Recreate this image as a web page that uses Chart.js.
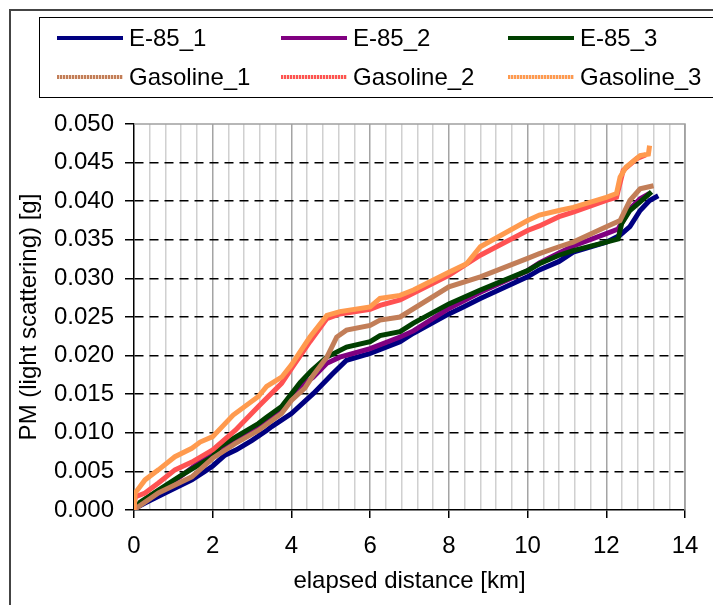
<!DOCTYPE html>
<html>
<head>
<meta charset="utf-8">
<title>PM vs elapsed distance</title>
<script src="https://cdn.jsdelivr.net/npm/chart.js@4.4.0/dist/chart.umd.min.js"></script>
<style>
  html, body { margin: 0; padding: 0; background: #fff; }
  #wrap { position: relative; width: 713px; height: 605px; overflow: hidden;
          font-family: 'Liberation Sans', Arial, sans-serif; }
  #frame { position: absolute; left: 9px; top: 9px; width: 800px; height: 700px;
           border: 2px solid #444; }
  #legend { position: absolute; left: 39px; top: 17px; width: 760px; height: 79px;
            border: 1px solid #000; z-index: 2; }
  .lg-text { position: absolute; font-size: 24px; line-height: 24px; color: #000; white-space: nowrap; }
  .lg-line { position: absolute; width: 66px; height: 4px; }
  #chart { position: absolute; left: 0; top: 0; z-index: 1; }
</style>
</head>
<body>
<div id="wrap">
  <div id="frame"></div>
  <canvas id="chart" width="713" height="605"></canvas>
  <div id="legend"></div>
</div>
<script>
// values: distance [km] and PM [g]
const distE1 = [0, 0.1, 0.28, 0.79, 1.47, 1.8, 2.0, 2.31, 2.6, 2.99, 3.37, 3.5, 4.0, 4.56, 5.06, 5.4, 6.0, 6.76, 7.1, 8.0, 8.37, 8.8, 10.0, 10.3, 10.8, 11.16, 12.0, 12.35, 12.6, 12.86, 13.1, 13.32];
const pmE1   = [0, 0.0004, 0.0009, 0.0022, 0.0039, 0.005, 0.0057, 0.0071, 0.0078, 0.009, 0.0103, 0.0108, 0.0125, 0.0151, 0.0177, 0.0194, 0.0203, 0.0218, 0.0229, 0.0254, 0.0263, 0.0274, 0.0302, 0.0311, 0.0322, 0.0334, 0.0347, 0.0356, 0.0367, 0.0388, 0.0401, 0.0407];

const distE2 = [0, 0.15, 0.6, 1.2, 2.0, 2.6, 3.16, 3.75, 4.22, 4.55, 4.9, 5.23, 6.0, 6.76, 7.1, 8.0, 8.8, 10.0, 10.3, 10.8, 11.16, 12.0, 12.3, 12.6, 12.86, 13.1];
const pmE2   = [0, 0.0009, 0.0024, 0.0044, 0.0075, 0.0092, 0.0108, 0.013, 0.016, 0.0172, 0.019, 0.0198, 0.0209, 0.0224, 0.0232, 0.0261, 0.0282, 0.031, 0.032, 0.0333, 0.0342, 0.0358, 0.0364, 0.039, 0.0403, 0.041];

const distE3 = [0, 0.15, 0.6, 1.2, 2.0, 2.18, 2.6, 3.16, 3.37, 3.75, 4.22, 4.5, 4.9, 5.4, 6.0, 6.25, 6.76, 7.1, 8.0, 8.8, 10.0, 10.3, 10.8, 11.16, 12.0, 12.3, 12.39, 12.6, 12.86, 13.15];
const pmE3   = [0, 0.001, 0.0025, 0.0045, 0.0069, 0.0082, 0.0095, 0.0112, 0.012, 0.0134, 0.0165, 0.018, 0.0198, 0.0211, 0.0218, 0.0226, 0.0231, 0.0242, 0.0267, 0.0285, 0.031, 0.0319, 0.033, 0.0336, 0.0347, 0.0351, 0.0371, 0.0388, 0.0399, 0.0412];

const distG1 = [0, 0.1, 0.62, 1.47, 2.0, 2.57, 3.16, 3.75, 4.0, 4.34, 4.56, 4.9, 5.15, 5.4, 6.0, 6.25, 6.76, 8.0, 8.8, 10.0, 10.3, 10.8, 11.16, 12.0, 12.35, 12.6, 12.86, 13.2];
const pmG1   = [0, 0.0004, 0.0022, 0.0043, 0.0067, 0.0086, 0.0103, 0.0125, 0.0142, 0.0158, 0.0175, 0.0198, 0.0224, 0.0233, 0.0239, 0.0246, 0.025, 0.0289, 0.0302, 0.0326, 0.0332, 0.0341, 0.0347, 0.0367, 0.0375, 0.0401, 0.0416, 0.042];

const distG2 = [0, 0.03, 0.28, 0.62, 1.04, 1.47, 2.0, 2.57, 3.16, 3.75, 4.0, 4.47, 4.9, 5.23, 6.0, 6.25, 6.76, 8.0, 8.8, 10.0, 10.3, 10.8, 11.16, 12.0, 12.26, 12.43, 12.77, 13.0];
const pmG2   = [0, 0.0017, 0.0022, 0.0035, 0.0052, 0.0062, 0.0078, 0.0103, 0.0134, 0.0164, 0.0183, 0.0218, 0.0248, 0.0254, 0.026, 0.0265, 0.0272, 0.0304, 0.033, 0.0362, 0.0368, 0.038, 0.0386, 0.0401, 0.0405, 0.044, 0.0455, 0.046];

const distG3 = [0, 0.03, 0.28, 0.62, 1.04, 1.47, 1.68, 2.0, 2.52, 3.16, 3.37, 3.75, 4.0, 4.47, 4.9, 5.23, 6.0, 6.25, 6.76, 7.1, 8.0, 8.45, 8.8, 10.0, 10.3, 10.8, 11.16, 12.0, 12.26, 12.35, 12.5, 12.86, 13.07, 13.1];
const pmG3   = [0, 0.0022, 0.0039, 0.0052, 0.0069, 0.008, 0.0088, 0.0095, 0.0123, 0.0147, 0.016, 0.0172, 0.0188, 0.0224, 0.0252, 0.0257, 0.0263, 0.0274, 0.0278, 0.0285, 0.0308, 0.0319, 0.0341, 0.0375, 0.0382, 0.0388, 0.0392, 0.0405, 0.041, 0.0431, 0.0444, 0.0459, 0.0461, 0.0472];

const seriesNames = ['E-85_1', 'E-85_2', 'E-85_3', 'Gasoline_1', 'Gasoline_2', 'Gasoline_3'];
const xTickLabels = [0, 2, 4, 6, 8, 10, 12, 14];

const dists = [distE1, distE2, distE3, distG1, distG2, distG3];
const pms = [pmE1, pmE2, pmE3, pmG1, pmG2, pmG3];
const colors = ['#000080', '#800080', '#003f00', '#c27e58', '#ff5252', '#ff9a4e'];

const FONT = "'Liberation Sans', Arial, sans-serif";

// legend (html so the bordered 3-column box matches)
const legendPos = [[57, 38], [281, 38], [508, 38], [57, 77], [281, 77], [508, 77]];
const legend = document.getElementById('legend');
seriesNames.forEach((name, i) => {
  const [lx, ly] = legendPos[i];
  const line = document.createElement('div');
  line.className = 'lg-line';
  line.style.left = (lx - 40) + 'px';
  line.style.top = (ly - 18 - 2) + 'px';
  if (i < 3) {
    line.style.background = colors[i];
  } else {
    line.style.background = 'repeating-linear-gradient(90deg,' + colors[i] + ' 0 2px, #f2d8c8 2px 3px)';
  }
  legend.appendChild(line);
  const t = document.createElement('div');
  t.className = 'lg-text';
  t.textContent = name;
  t.style.left = (lx - 40 + 72) + 'px';
  t.style.top = (ly - 18 - 12) + 'px';
  legend.appendChild(t);
});

const isMajor = v => xTickLabels.some(t => Math.abs(v - t) < 1e-6);

// plot frame (gray top and right edge)
const framePlugin = {
  id: 'plotFrame',
  beforeDatasetsDraw(chart) {
    const a = chart.chartArea, ctx = chart.ctx;
    ctx.save();
    ctx.strokeStyle = '#a0a0a0';
    ctx.lineWidth = 1.5;
    ctx.beginPath();
    ctx.moveTo(a.left, a.top);
    ctx.lineTo(a.right, a.top);
    ctx.lineTo(a.right, a.bottom);
    ctx.stroke();
    ctx.restore();
  }
};

new Chart(document.getElementById('chart'), {
  type: 'line',
  data: {
    datasets: seriesNames.map((name, i) => ({
      label: name,
      data: dists[i].map((d, k) => ({ x: d, y: pms[i][k] })),
      borderColor: colors[i],
      backgroundColor: colors[i],
      borderWidth: 5,
      pointRadius: 0,
      tension: 0,
      fill: false,
      order: 5 - i
    }))
  },
  options: {
    responsive: false,
    animation: false,
    layout: { padding: { top: 124, right: 28, left: 0, bottom: 0 } },
    plugins: { legend: { display: false }, tooltip: { enabled: false } },
    scales: {
      x: {
        type: 'linear', min: 0, max: 14,
        afterFit: s => { s.height = 95; },
        ticks: {
          stepSize: 0.4, autoSkip: false, maxRotation: 0, padding: 14,
          color: '#000', font: { family: FONT, size: 24 },
          callback: v => isMajor(v) ? String(Math.round(v)) : ''
        },
        grid: {
          color: c => (Math.abs(c.tick.value) < 1e-6) ? 'rgba(0,0,0,0)' : (isMajor(c.tick.value) ? '#a4a4a4' : '#d0d0d0'),
          lineWidth: 1.5,
          tickLength: 8,
          tickColor: c => isMajor(c.tick.value) ? '#000' : 'rgba(0,0,0,0)'
        },
        border: { color: '#000', width: 1.5 },
        title: { display: true, text: 'elapsed distance [km]', color: '#000',
                 font: { family: FONT, size: 24 }, padding: { top: 0, bottom: 9 } }
      },
      y: {
        min: 0, max: 0.05,
        afterFit: s => { s.width = 134; },
        ticks: {
          stepSize: 0.005, padding: 11, color: '#000', font: { family: FONT, size: 24 },
          callback: v => v.toFixed(3)
        },
        grid: {
          color: c => (c.tick.value < 1e-6 || c.tick.value > 0.0499) ? 'rgba(0,0,0,0)' : '#000',
          lineWidth: 1.5,
          tickLength: 9,
          tickColor: '#000'
        },
        border: { color: '#000', width: 1.5, dash: [9, 6] },
        title: { display: true, text: 'PM (light scattering) [g]', color: '#000',
                 font: { family: FONT, size: 24 }, padding: { top: 15, bottom: 0 } }
      }
    }
  },
  plugins: [framePlugin]
});
</script>
</body>
</html>
